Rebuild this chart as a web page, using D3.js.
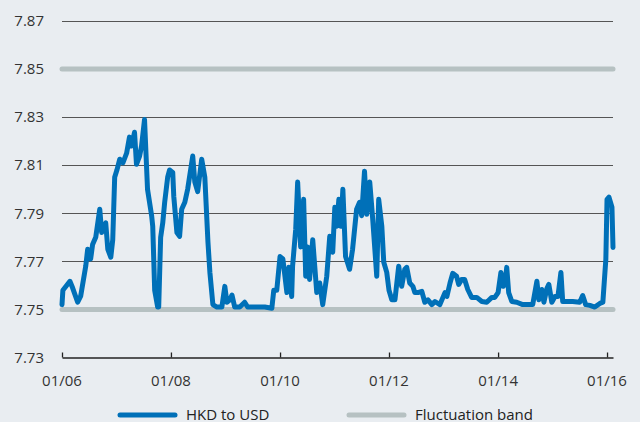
<!DOCTYPE html>
<html>
<head>
<meta charset="utf-8">
<script src="https://cdn.jsdelivr.net/npm/d3@7"></script>
<style>
  html, body { margin: 0; padding: 0; background: #e9edf1; }
  svg { display: block; font-family: "Open Sans", "Noto Sans", sans-serif; }
</style>
</head>
<body>
<svg id="chart" width="640" height="422"></svg>
<script>
// HKD per USD
var dates = [
  "2006-01-01","2006-01-07","2006-02-23","2006-03-13","2006-04-16","2006-05-06","2006-06-09","2006-06-22",
  "2006-07-12","2006-07-25","2006-08-15","2006-09-11","2006-09-24","2006-10-21","2006-11-04","2006-11-24",
  "2006-12-07","2006-12-20","2007-01-04","2007-01-23","2007-02-13","2007-03-10","2007-03-29","2007-04-12",
  "2007-05-02","2007-05-15","2007-06-05","2007-06-18","2007-07-08","2007-07-28","2007-08-25","2007-09-01",
  "2007-09-14","2007-10-04","2007-10-11","2007-10-24","2007-11-07","2007-11-20","2007-12-10","2007-12-23",
  "2008-01-13","2008-01-20","2008-02-10","2008-02-28","2008-03-13","2008-04-03","2008-04-22","2008-05-26",
  "2008-06-09","2008-06-28","2008-07-25","2008-08-15","2008-09-05","2008-09-18","2008-10-08","2008-11-04",
  "2008-12-07","2008-12-27","2009-01-10","2009-01-30","2009-02-13","2009-03-03","2009-04-06","2009-05-09",
  "2009-05-29","2009-07-28","2009-09-21","2009-11-07","2009-11-20","2009-12-10","2010-01-01","2010-01-20",
  "2010-02-16","2010-03-01","2010-03-20","2010-03-26","2010-04-16","2010-04-29","2010-05-19","2010-06-08",
  "2010-06-22","2010-07-05","2010-07-18","2010-08-08","2010-09-04","2010-09-24","2010-10-14","2010-11-10",
  "2010-11-30","2010-12-20","2011-01-03","2011-01-16","2011-01-30","2011-02-13","2011-02-26","2011-03-16",
  "2011-04-12","2011-05-02","2011-05-29","2011-06-18","2011-07-02","2011-07-21","2011-08-05","2011-08-25",
  "2011-09-14","2011-10-11","2011-10-24","2011-11-14","2011-11-27","2011-12-17","2012-01-01","2012-01-20",
  "2012-02-10","2012-03-06","2012-03-26","2012-04-16","2012-04-29","2012-05-19","2012-06-09","2012-06-22",
  "2012-07-12","2012-08-08","2012-08-28","2012-09-18","2012-10-14","2012-11-04","2012-12-07","2013-01-10",
  "2013-01-23","2013-02-13","2013-03-03","2013-03-29","2013-04-12","2013-05-02","2013-05-22","2013-06-12",
  "2013-07-08","2013-08-11","2013-09-14","2013-10-17","2013-11-20","2013-12-10","2014-01-01","2014-01-20",
  "2014-02-03","2014-02-16","2014-02-28","2014-03-13","2014-04-03","2014-05-06","2014-06-15","2014-08-21",
  "2014-09-18","2014-10-01","2014-10-21","2014-11-04","2014-11-24","2014-12-07","2014-12-27","2015-01-17",
  "2015-02-06","2015-02-26","2015-03-10","2015-04-06","2015-05-16","2015-07-02","2015-07-22","2015-08-11",
  "2015-09-08","2015-10-11","2015-11-14","2015-12-04","2015-12-24","2016-01-01","2016-01-14","2016-02-03",
  "2016-02-10"
];
var hkd = [
  7.752,7.758,7.7617,7.759,7.753,7.7555,7.768,7.775,
  7.771,7.777,7.780,7.7917,7.782,7.786,7.775,7.7717,
  7.779,7.805,7.808,7.8125,7.811,7.815,7.8217,7.818,
  7.8237,7.8104,7.8138,7.818,7.829,7.800,7.7888,7.7846,
  7.758,7.751,7.751,7.780,7.786,7.7946,7.805,7.808,
  7.807,7.797,7.782,7.7804,7.7917,7.7946,7.800,7.8138,
  7.803,7.799,7.8125,7.805,7.778,7.7654,7.752,7.751,
  7.751,7.7596,7.753,7.754,7.756,7.751,7.751,7.753,
  7.751,7.751,7.751,7.7505,7.758,7.758,7.772,7.771,
  7.757,7.7675,7.7554,7.768,7.7833,7.803,7.776,7.7958,
  7.7638,7.776,7.7625,7.779,7.757,7.761,7.752,7.7638,
  7.7804,7.7738,7.7925,7.7846,7.7958,7.7846,7.800,7.772,
  7.7667,7.775,7.7917,7.7946,7.789,7.8075,7.7896,7.803,
  7.7875,7.7638,7.7958,7.7846,7.7696,7.7654,7.758,7.754,
  7.754,7.768,7.7596,7.7667,7.7675,7.761,7.7596,7.757,
  7.757,7.7575,7.753,7.754,7.752,7.7533,7.752,7.757,
  7.7554,7.761,7.765,7.7638,7.7604,7.7625,7.7625,7.7583,
  7.755,7.755,7.7533,7.753,7.755,7.755,7.757,7.7654,
  7.7596,7.7604,7.7675,7.757,7.7533,7.753,7.752,7.752,
  7.7617,7.754,7.7583,7.753,7.7587,7.7604,7.753,7.7554,
  7.7554,7.7654,7.7533,7.7533,7.7533,7.753,7.7558,7.752,
  7.7517,7.751,7.7525,7.753,7.7708,7.7958,7.7967,7.7925,
  7.7758
];
var bandLevels = [7.75, 7.85];
var yTicks = [7.73, 7.75, 7.77, 7.79, 7.81, 7.83, 7.85, 7.87];
var xTickYears = [2006, 2008, 2010, 2012, 2014, 2016];
var legendLabels = ["HKD to USD", "Fluctuation band"];

var blue = "#0070b8", bandGrey = "#b6c1c2";
var parse = d3.timeParse("%Y-%m-%d");
var series = dates.map(function(d, i) { return { date: parse(d), v: hkd[i] }; });

var svg = d3.select("#chart");
var plotLeft = 62, plotRight = 613, plotTop = 21, plotBottom = 357.5;

var x = d3.scaleTime()
    .domain([new Date(2006, 0, 1), parse("2016-02-10")])
    .range([plotLeft, plotRight]);
var y = d3.scaleLinear().domain([7.73, 7.87]).range([plotBottom, plotTop]);

// grid lines (not where the band sits, not on the axis)
svg.append("g").selectAll("line")
    .data(yTicks.filter(function(t) { return t > 7.735 && bandLevels.indexOf(t) < 0; }))
    .enter().append("line")
    .attr("x1", plotLeft).attr("x2", plotRight)
    .attr("y1", function(d) { return Math.round(y(d)) + 0.5; })
    .attr("y2", function(d) { return Math.round(y(d)) + 0.5; })
    .attr("stroke", "#555").attr("stroke-width", 1);

// y labels
svg.append("g").selectAll("text").data(yTicks).enter().append("text")
    .attr("x", 44).attr("y", function(d) { return y(d); })
    .attr("dy", "0.35em").attr("text-anchor", "end")
    .attr("font-size", 15).attr("fill", "#333")
    .text(function(d) { return d.toFixed(2); });

// fluctuation band
svg.append("g").selectAll("line").data(bandLevels).enter().append("line")
    .attr("x1", plotLeft).attr("x2", plotRight)
    .attr("y1", function(d) { return y(d); }).attr("y2", function(d) { return y(d); })
    .attr("stroke", bandGrey).attr("stroke-width", 5).attr("stroke-linecap", "round");

// x axis
var xTicks = xTickYears.map(function(yr) { return new Date(yr, 0, 1); });
var axis = svg.append("g")
    .attr("transform", "translate(0," + plotBottom + ")")
    .call(d3.axisTop(x).tickValues(xTicks).tickSize(5).tickSizeOuter(0).tickFormat(""));
axis.select(".domain").attr("stroke", "#222").attr("stroke-width", 1.3);
axis.selectAll(".tick line").attr("stroke", "#222").attr("stroke-width", 1.3);

svg.append("g").selectAll("text").data(xTicks).enter().append("text")
    .attr("x", function(d) { return x(d); }).attr("y", 386)
    .attr("text-anchor", "middle").attr("font-size", 15).attr("fill", "#333")
    .text(d3.timeFormat("%m/%y"));

// HKD line
svg.append("path").datum(series)
    .attr("d", d3.line().x(function(d) { return x(d.date); }).y(function(d) { return y(d.v); }))
    .attr("fill", "none").attr("stroke", blue).attr("stroke-width", 5)
    .attr("stroke-linejoin", "round").attr("stroke-linecap", "round");

// legend
var legend = svg.append("g").selectAll("g").data(legendLabels).enter().append("g")
    .attr("transform", function(d, i) { return "translate(" + (i ? 349 : 120) + ",415)"; });
legend.append("line").attr("x1", 0).attr("x2", 55)
    .attr("stroke", function(d, i) { return i ? bandGrey : blue; })
    .attr("stroke-width", 5).attr("stroke-linecap", "round");
legend.append("text").attr("x", 66).attr("y", 4.5)
    .attr("font-size", 15).attr("fill", "#222")
    .text(function(d) { return d; });
</script>
</body>
</html>
